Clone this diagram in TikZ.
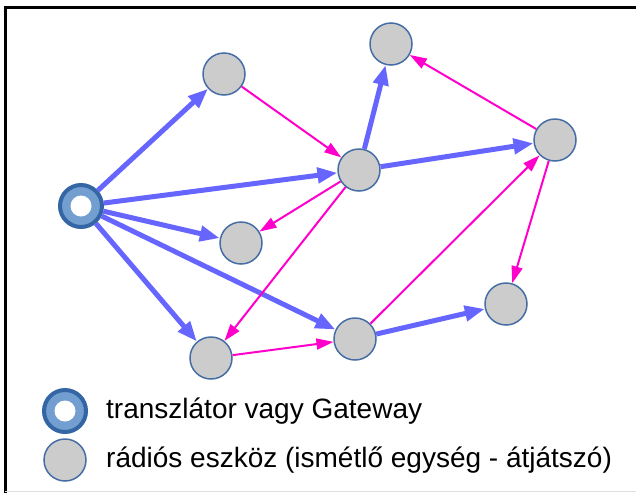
\documentclass[tikz,border=0pt]{standalone}
\usepackage{fontspec}
\setmainfont{Liberation Sans}
\usetikzlibrary{arrows.meta}
\definecolor{edgeblue}{RGB}{102,102,255}
\definecolor{edgemag}{RGB}{255,0,204}
\definecolor{nodegray}{RGB}{204,204,204}
\definecolor{nodeborder}{RGB}{70,110,165}
\definecolor{gwdark}{RGB}{52,101,164}
\definecolor{gwlight}{RGB}{114,159,207}
\begin{document}
\begin{tikzpicture}[x=1pt,y=-1pt,
  dev/.style={circle,fill=nodegray,draw=nodeborder,line width=1.5pt,minimum size=42pt,inner sep=0pt},
  gw/.style={circle,fill=gwlight,draw=gwdark,line width=4pt,minimum size=42pt,inner sep=0pt},
  blueedge/.style={draw=edgeblue,line width=5pt,-{Triangle[length=20pt,width=15pt]}},
  magedge/.style={draw=edgemag,line width=2pt,-{Triangle[length=17pt,width=11pt]}},
  legtext/.style={anchor=west,inner sep=0pt,font=\fontsize{28}{32}\selectfont}
]
\useasboundingbox (0,0) rectangle (636,493);
\fill[white] (0,0) rectangle (636,493);
% frame
\draw[line width=2.7pt] (5.3,493) -- (5.3,7.3) -- (636,7.3);
\draw[line width=1pt,black!12] (5.3,491.5) -- (636,491.5);
% nodes
\node[gw] (G) at (81,206) {};
\fill[white] (G.center) circle (10.5pt);
\node[dev] (A) at (224,74) {};
\node[dev] (B) at (391,44) {};
\node[dev] (C) at (359,170) {};
\node[dev] (D) at (555,140) {};
\node[dev] (E) at (241,243) {};
\node[dev] (F) at (211,358) {};
\node[dev] (H) at (355,339) {};
\node[dev] (I) at (506,304) {};
% blue edges
\draw[blueedge] (G) -- (A);
\draw[blueedge] (G) -- (C);
\draw[blueedge] (G) -- (E);
\draw[blueedge] (G) -- (F);
\draw[blueedge] (G) -- (H);
\draw[blueedge] (C) -- (B);
\draw[blueedge] (C) -- (D);
\draw[blueedge] (H) -- (I);
% magenta edges
\draw[magedge] (A) -- (C);
\draw[magedge] (D) -- (B);
\draw[magedge] (C) -- (E);
\draw[magedge] (C) -- (F);
\draw[magedge] (F) -- (H);
\draw[magedge] (H) -- (D);
\draw[magedge] (D) -- (I);
% legend
\node[gw] (LG) at (65,411) {};
\fill[white] (LG.center) circle (10.5pt);
\node[dev] (LD) at (65,460) {};
\node[legtext] (T1) at (106,411) {transzlátor vagy Gateway};
\node[legtext] (T2) at (106,460) {rádiós eszköz (ismétlő egység - átjátszó)};
\end{tikzpicture}
\end{document}
